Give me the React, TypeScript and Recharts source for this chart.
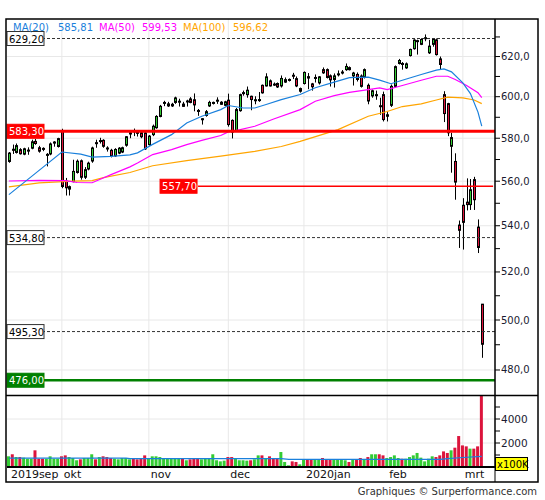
import React from 'react';
import { ComposedChart, Bar, Line, XAxis, YAxis, CartesianGrid, ReferenceLine, Cell } from 'recharts';

const FONT = '"DejaVu Sans", Verdana, sans-serif';
const UP = '#33cc33';
const DOWN = '#dc143c';
const BLUE = '#1a80dc';
const MAGENTA = '#ff00ff';
const ORANGE = '#ffa500';

// ---- data ----
const opens = [
  569.1, 574.8, 573.3, 574.6, 572.5, 574.0, 575.3, 578.5, 575.5, 575.2,
  572.0, 572.6, 577.7, 576.1, 583.3, 560.0, 556.4, 559.8, 564.0, 569.4,
  561.8, 565.6, 569.3, 577.9, 578.6, 579.0, 575.4, 574.3, 571.7, 573.0,
  573.5, 576.7, 582.0, 583.5, 582.8, 582.6, 582.5, 577.0, 581.7, 585.0,
  590.4, 596.8, 595.5, 595.5, 597.2, 597.6, 596.4, 597.7, 598.9, 598.5,
  593.3, 589.0, 590.9, 595.5, 596.8, 598.0, 596.3, 595.8, 598.3, 588.5,
  583.5, 593.2, 601.5, 601.0, 600.2, 598.3, 598.1, 605.6, 605.3, 607.8,
  606.2, 606.5, 605.3, 607.2, 608.2, 610.6, 608.9, 602.7, 606.5, 609.9,
  606.3, 609.3, 606.8, 613.4, 613.4, 610.3, 608.5, 611.0, 611.8, 613.4,
  614.4, 610.3, 611.0, 610.2, 609.6, 605.6, 600.4, 600.5, 595.6, 601.0,
  590.5, 595.8, 605.1, 616.5, 616.5, 614.3, 620.5, 624.0, 627.6, 626.2,
  629.4, 621.9, 626.2, 628.5, 618.8, 601.0, 596.6, 576.2, 569.1, 540.3,
  549.1, 550.5, 549.4, 560.7, 539.4, 506.5,
];
const highs = [
  573.5, 577.0, 577.5, 575.3, 575.5, 575.7, 579.3, 579.6, 576.4, 575.7,
  573.0, 578.0, 578.6, 580.2, 584.5, 561.5, 558.0, 569.9, 570.0, 570.0,
  566.5, 569.0, 576.0, 579.3, 580.2, 579.5, 576.2, 575.0, 575.3, 575.8,
  576.0, 581.0, 583.6, 584.6, 583.8, 583.5, 583.5, 581.5, 586.5, 591.0,
  596.0, 598.0, 597.5, 597.0, 600.0, 599.0, 597.5, 598.5, 599.8, 601.6,
  594.0, 589.6, 593.5, 598.0, 597.6, 599.7, 597.8, 598.0, 601.5, 589.0,
  594.5, 601.5, 603.0, 605.0, 600.5, 600.2, 602.3, 606.0, 611.6, 608.5,
  607.0, 607.0, 610.5, 609.5, 609.0, 611.8, 610.0, 604.5, 612.5, 611.7,
  606.8, 611.0, 610.2, 614.5, 614.0, 611.0, 611.5, 613.0, 613.2, 616.5,
  615.0, 612.3, 612.0, 611.0, 614.0, 606.5, 603.5, 603.0, 599.5, 602.5,
  592.5, 606.0, 615.5, 618.8, 617.2, 617.0, 624.0, 628.8, 628.6, 629.3,
  631.3, 628.5, 629.3, 629.2, 620.0, 602.7, 597.0, 582.6, 572.9, 542.3,
  552.3, 561.3, 561.0, 562.0, 542.8, 506.6,
];
const lows = [
  568.5, 572.6, 572.8, 572.3, 572.0, 572.2, 574.8, 576.9, 573.2, 573.9,
  566.8, 572.0, 576.0, 575.6, 556.8, 553.5, 553.5, 559.5, 563.5, 560.7,
  561.0, 565.0, 568.5, 575.5, 577.5, 575.5, 573.7, 571.0, 571.2, 572.5,
  573.0, 576.0, 580.0, 581.0, 580.8, 580.0, 574.5, 576.5, 581.0, 584.5,
  590.0, 595.4, 595.0, 595.0, 596.5, 595.2, 595.0, 595.2, 596.8, 592.9,
  590.7, 586.5, 590.3, 595.0, 596.2, 596.5, 596.0, 595.3, 585.5, 579.9,
  583.0, 592.7, 600.5, 599.5, 593.4, 596.3, 597.5, 601.5, 605.0, 605.0,
  605.3, 604.3, 604.5, 606.8, 607.5, 608.7, 604.7, 602.0, 606.0, 603.7,
  603.0, 607.0, 606.0, 611.3, 609.0, 605.0, 604.5, 610.0, 611.0, 612.8,
  613.0, 605.5, 607.5, 604.5, 609.0, 596.3, 599.5, 598.5, 591.2, 588.0,
  588.0, 595.0, 604.5, 616.0, 613.4, 613.8, 620.0, 623.5, 621.0, 625.8,
  627.8, 621.3, 625.0, 620.5, 613.5, 587.7, 581.0, 563.9, 551.6, 530.3,
  529.6, 546.8, 547.0, 547.0, 528.1, 484.8,
];
const closes = [
  573.0, 574.3, 576.5, 572.7, 575.0, 574.4, 578.3, 577.5, 573.9, 574.9,
  572.4, 577.3, 578.2, 579.8, 557.6, 557.0, 557.5, 564.5, 569.2, 561.8,
  565.3, 568.3, 575.4, 577.7, 578.9, 576.2, 575.2, 571.7, 574.7, 575.3,
  575.5, 580.7, 582.6, 583.2, 582.5, 580.7, 575.0, 581.0, 585.7, 590.4,
  595.3, 597.2, 596.5, 596.3, 599.4, 597.8, 595.3, 597.9, 597.2, 596.0,
  593.0, 589.3, 592.7, 597.2, 597.2, 598.3, 597.3, 597.5, 586.5, 582.9,
  593.7, 601.0, 602.0, 603.2, 598.6, 598.5, 598.6, 601.9, 609.8, 605.3,
  606.0, 604.8, 609.0, 608.4, 608.5, 610.4, 605.3, 604.0, 612.0, 609.2,
  604.9, 609.5, 609.8, 611.8, 609.5, 608.3, 610.3, 611.3, 612.2, 615.0,
  613.4, 611.7, 608.5, 605.1, 613.4, 597.9, 602.9, 601.0, 595.4, 588.9,
  591.2, 605.1, 614.9, 618.0, 616.3, 616.3, 623.6, 628.4, 628.1, 628.7,
  629.6, 625.3, 628.7, 621.0, 616.0, 591.8, 582.6, 580.3, 559.6, 538.0,
  541.5, 549.4, 556.1, 551.6, 530.5, 490.2,
];
// volume in units of 100K
const volumes = [
  890, 1060, 830, 830, 780, 690, 690, 1390, 690, 690,
  690, 890, 690, 690, 890, 970, 830, 750, 560, 640,
  750, 750, 1060, 640, 830, 890, 830, 750, 690, 640,
  750, 750, 640, 690, 640, 690, 970, 750, 890, 890,
  830, 750, 690, 690, 690, 690, 690, 560, 640, 690,
  690, 640, 690, 750, 1060, 560, 470, 530, 830, 830,
  690, 560, 560, 530, 560, 640, 970, 970, 750, 890,
  690, 690, 1250, 420, 140, 470, 420, 220, 610, 610,
  610, 610, 610, 750, 610, 610, 610, 610, 610, 560,
  420, 610, 610, 750, 610, 830, 1060, 1060, 1060, 970,
  750, 830, 970, 750, 690, 690, 830, 970, 1170, 780,
  470, 690, 890, 830, 970, 1300, 1170, 1390, 1610, 2580,
  1800, 1720, 1530, 1530, 1720, 6400,
];
// moving averages read at sample candles: [candle index, value]
const ma20Points: [number, number][] = [
  [0, 553.9], [7, 563.6], [14, 573.5], [19, 572.5], [22, 571.1], [27, 571.5], [32, 572.2],
  [34, 573.1], [38, 577.1], [43, 581.7], [47, 587.3], [51, 590.5], [56, 593.7], [58, 595.7],
  [62, 594.5], [65, 594.5], [68, 596.2], [72, 598.6], [77, 601.1], [81, 604.4], [86, 607.2],
  [90, 609.4], [95, 609.7], [98, 608.2], [101, 606.4], [104, 608.1], [109, 611.0], [113, 613.2],
  [115, 613.8], [117, 612.3], [120, 606.8], [122, 601.5], [124, 592.5], [125, 585.8],
];
const ma50Points: [number, number][] = [
  [0, 560.1], [8, 560.4], [15, 560.3], [18, 559.4], [22, 559.3], [24, 560.8], [27, 563.0],
  [32, 566.6], [34, 568.4], [38, 572.3], [43, 574.6], [47, 577.0], [51, 579.0], [56, 581.3],
  [58, 583.0], [60, 583.6], [65, 585.7], [70, 589.2], [77, 593.7], [81, 597.8], [86, 600.5],
  [90, 602.1], [95, 603.5], [98, 604.3], [100, 603.5], [104, 605.5], [109, 608.1], [113, 610.1],
  [116, 610.1], [118, 608.5], [121, 605.5], [124, 602.0], [125, 599.5],
];
const ma100Points: [number, number][] = [
  [0, 557.4], [8, 559.2], [17, 560.0], [22, 560.3], [25, 561.6], [32, 564.0], [38, 567.1],
  [47, 569.5], [56, 571.6], [65, 573.8], [72, 576.1], [77, 578.5], [87, 584.1], [95, 590.5],
  [100, 592.8], [104, 595.2], [109, 596.5], [113, 598.4], [116, 599.8], [120, 599.4],
  [123, 598.4], [125, 596.6],
];
const volMaPoints: [number, number][] = [
  [0, 740], [31, 740], [32, 700], [72, 700], [74, 630], [114, 640], [116, 700], [120, 790], [125, 880],
];

const monthTicks = [0, 14, 37, 58, 78, 100, 120];
const monthLabels = ['2019sep', 'okt', 'nov', 'dec', '2020jan', 'feb', 'mrt'];
const monthGrid = [14, 37, 58, 78, 100, 120];
const priceTicks = [480, 490, 500, 510, 520, 530, 540, 550, 560, 570, 580, 590, 600, 610, 620, 630];
const priceGrid = [480, 500, 520, 540, 560, 580, 600, 620];
const volTicks = [1000, 2000, 3000, 4000, 5000];
const volGrid = [2000, 4000];
const legendItems = [
  { name: 'MA(20)', value: '585,81', color: BLUE },
  { name: 'MA(50)', value: '599,53', color: MAGENTA },
  { name: 'MA(100)', value: '596,62', color: ORANGE },
];
const SLOTS = 129;

const lookup = (pts: [number, number][], i: number) => {
  const f = pts.find((p) => p[0] === i);
  return f ? f[1] : null;
};

const data = Array.from({ length: SLOTS }, (_, i) => {
  const has = i < opens.length;
  return {
    idx: i,
    range: has ? [lows[i], highs[i]] : null,
    o: has ? opens[i] : null,
    h: has ? highs[i] : null,
    l: has ? lows[i] : null,
    c: has ? closes[i] : null,
    vol: has ? volumes[i] : null,
    ma20: lookup(ma20Points, i),
    ma50: lookup(ma50Points, i),
    ma100: lookup(ma100Points, i),
    vma: lookup(volMaPoints, i),
  };
});

const Candle = (props: any) => {
  const { x, y, width, height, payload } = props;
  if (!payload || payload.o == null) return null;
  const { o, h, l, c } = payload;
  const px = Math.round(x + width / 2);
  const lnH = Math.log(h);
  const span = lnH - Math.log(l);
  const yAt = (p: number) => (span > 0 ? y + ((lnH - Math.log(p)) / span) * height : y);
  const yo = yAt(o);
  const yc = yAt(c);
  const top = Math.min(yo, yc);
  const bot = Math.max(yo, yc);
  const up = c >= o;
  return (
    <g>
      <line x1={px + 0.5} x2={px + 0.5} y1={y} y2={y + height} stroke="#000" strokeWidth={1} />
      <rect x={px - 0.5} y={top} width={2} height={Math.max(bot - top, 1)} fill={up ? UP : DOWN} stroke="#000" strokeWidth={1} />
    </g>
  );
};

const PriceTick = (props: any) => {
  const { x, y, payload } = props;
  const v = Number(payload.value);
  if (Math.round(v) % 20 !== 0) return null;
  return (
    <text x={x} y={y} dy={3.5} fontSize={10} fontFamily={FONT} fill="#1a1a30" textAnchor="start">
      {v.toFixed(1).replace('.', ',')}
    </text>
  );
};

const VolTick = (props: any) => {
  const { x, y, payload } = props;
  const v = Number(payload.value);
  if (v % 2000 !== 0) return null;
  return (
    <text x={x} y={y} dy={3.5} fontSize={10.5} fontFamily={FONT} fill="#1a1a30" textAnchor="start">
      {String(v)}
    </text>
  );
};

const MonthTick = (props: any) => {
  const { x, y, payload } = props;
  const k = monthTicks.indexOf(Number(payload.value));
  if (k < 0) return null;
  return (
    <text x={x + 2} y={y + 11} fontSize={11} fontFamily={FONT} fill="#111" textAnchor="start">
      {monthLabels[k]}
    </text>
  );
};

const BoxLabel = (props: any) => {
  const { viewBox, text, fill, color, stroke, left } = props;
  if (!viewBox) return null;
  const bx = left != null ? left : viewBox.x - 38;
  const cy = viewBox.y;
  return (
    <g>
      <rect x={bx} y={cy - 7} width={37} height={14} fill={fill} stroke={stroke || fill} strokeWidth={1} />
      <text x={bx + 2} y={cy + 4} fontSize={10} fontFamily={FONT} fill={color}>
        {text}
      </text>
    </g>
  );
};

export default function App() {
  return (
    <div style={{ position: 'absolute', left: 0, top: 0, width: 545, height: 500, background: '#fff' }}>
      <div style={{ position: 'absolute', left: 0, top: 0 }}>
        <ComposedChart width={545} height={395} data={data} margin={{ top: 19, right: 0, bottom: 0, left: 7 }}>
          <CartesianGrid stroke="#e8e8e8" horizontalValues={priceGrid} verticalValues={monthGrid} />
          <XAxis dataKey="idx" hide />
          <YAxis
            orientation="right"
            scale="log"
            type="number"
            domain={[470.3, 639.3]}
            allowDataOverflow
            ticks={priceTicks}
            interval={0}
            width={50}
            tickSize={5}
            tickMargin={1}
            axisLine={{ stroke: '#000' }}
            tickLine={{ stroke: '#000' }}
            tick={<PriceTick />}
          />
          <Line dataKey="ma100" stroke={ORANGE} strokeWidth={1.2} dot={false} connectNulls isAnimationActive={false} />
          <Line dataKey="ma50" stroke={MAGENTA} strokeWidth={1.2} dot={false} connectNulls isAnimationActive={false} />
          <Line dataKey="ma20" stroke={BLUE} strokeWidth={1.2} dot={false} connectNulls isAnimationActive={false} />
          <Bar dataKey="range" shape={<Candle />} isAnimationActive={false} />
          <ReferenceLine y={629.2} stroke="#333" strokeDasharray="3 2" label={<BoxLabel left={7} text="629,20" fill="#fff" color="#000" stroke="#333" />} />
          <ReferenceLine y={583.3} stroke="#ff0000" strokeWidth={3} label={<BoxLabel left={7} text="583,30" fill="#ff0000" color="#fff" />} />
          <ReferenceLine
            segment={[{ x: 50, y: 557.7 }, { x: 128, y: 557.7 }]}
            stroke="#ff0000"
            strokeWidth={1.5}
            label={<BoxLabel text="557,70" fill="#ff0000" color="#fff" />}
          />
          <ReferenceLine y={534.8} stroke="#333" strokeDasharray="3 2" label={<BoxLabel left={7} text="534,80" fill="#fff" color="#000" stroke="#333" />} />
          <ReferenceLine y={495.3} stroke="#333" strokeDasharray="3 2" label={<BoxLabel left={7} text="495,30" fill="#fff" color="#000" stroke="#333" />} />
          <ReferenceLine y={476.0} stroke="#008000" strokeWidth={2.5} label={<BoxLabel left={7} text="476,00" fill="#008000" color="#fff" />} />
        </ComposedChart>
      </div>
      <div style={{ position: 'absolute', left: 0, top: 395 }}>
        <ComposedChart width={545} height={87} data={data} margin={{ top: 0, right: 0, bottom: 0, left: 7 }}>
          <CartesianGrid stroke="#e8e8e8" horizontalValues={volGrid} verticalValues={monthGrid} />
          <XAxis
            dataKey="idx"
            ticks={monthTicks}
            interval={0}
            height={15}
            tickSize={0}
            tickMargin={0}
            tickLine={false}
            axisLine={{ stroke: '#000', strokeWidth: 2 }}
            tick={<MonthTick />}
          />
          <YAxis
            orientation="right"
            type="number"
            domain={[0, 6000]}
            allowDataOverflow
            ticks={volTicks}
            interval={0}
            width={50}
            tickSize={5}
            tickMargin={1}
            axisLine={{ stroke: '#000' }}
            tickLine={{ stroke: '#000' }}
            tick={<VolTick />}
          />
          <Bar dataKey="vol" barSize={3} isAnimationActive={false}>
            {data.map((d, i) => (
              <Cell key={i} fill={d.c != null && d.o != null && d.c >= d.o ? UP : DOWN} />
            ))}
          </Bar>
          <Line dataKey="vma" stroke={BLUE} strokeWidth={1.2} dot={false} connectNulls isAnimationActive={false} />
        </ComposedChart>
      </div>
      <svg width={545} height={500} style={{ position: 'absolute', left: 0, top: 0, pointerEvents: 'none' }}>
        <rect x={6} y={19} width={532} height={463} fill="none" stroke="#000" strokeWidth={1.5} />
        <line x1={6} x2={538} y1={395.5} y2={395.5} stroke="#000" strokeWidth={1.5} />
        <line x1={495} x2={495} y1={19} y2={482} stroke="#000" strokeWidth={1} />
        {(() => {
          const xs = [13, 99, 183];
          const vx = [58, 142, 233];
          return legendItems.map((it, i) => (
            <g key={it.name}>
              <text x={xs[i]} y={31} fontSize={10} fontFamily={FONT} fill={it.color}>{it.name}</text>
              <text x={vx[i]} y={31} fontSize={10} fontFamily={FONT} fill={it.color}>{it.value}</text>
            </g>
          ));
        })()}
        <rect x={495.5} y={457.5} width={32} height={13} fill="#ffff00" stroke="#000" strokeWidth={1} />
        <text x={497} y={468} fontSize={10} fontFamily={FONT} fill="#000">x100K</text>
        <text x={537} y={495} fontSize={10} fontFamily={FONT} fill="#333" textAnchor="end">Graphiques © Surperformance.com</text>
      </svg>
    </div>
  );
}
